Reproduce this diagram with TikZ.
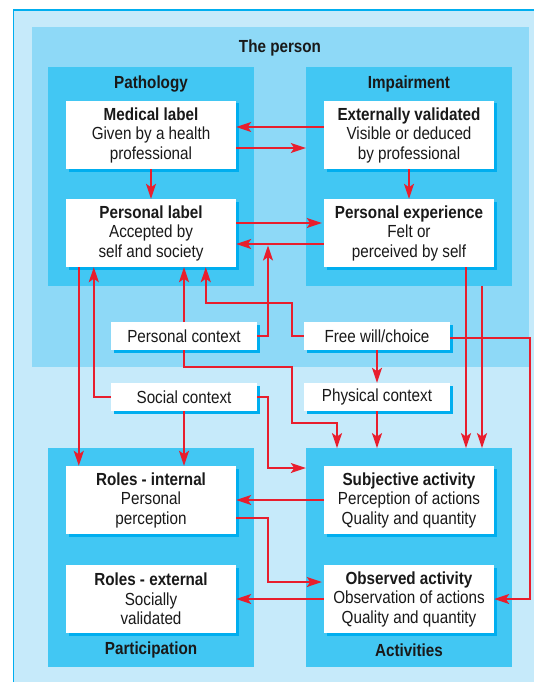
\documentclass[tikz,border=0pt]{standalone}
\usepackage{fontspec}
\setmainfont{Liberation Sans}[FakeStretch=0.87]
\usetikzlibrary{arrows.meta,shadows}
\definecolor{outerblue}{RGB}{198,234,250}
\definecolor{personblue}{RGB}{142,217,247}
\definecolor{boxblue}{RGB}{66,199,243}
\definecolor{edgeblue}{RGB}{0,174,239}
\definecolor{arrowred}{RGB}{232,30,45}
\definecolor{inkc}{RGB}{25,25,25}
\begin{document}
\begin{tikzpicture}[x=1pt,y=-1pt,
  every node/.style={font=\fontsize{17.5}{19.5}\selectfont, text=inkc},
  group/.style={fill=boxblue, draw=none, minimum width=206pt, minimum height=219pt, inner sep=0pt},
  card/.style={fill=white, minimum width=170pt, minimum height=68pt, inner sep=0pt, align=center,
    drop shadow={shadow xshift=2.5pt, shadow yshift=-2.5pt, fill=edgeblue, opacity=1}},
  tag/.style={card, minimum width=146pt, minimum height=28pt},
  heading/.style={font=\fontsize{17.5}{19.5}\selectfont\bfseries},
  arr/.style={draw=arrowred, line width=2pt, -{Stealth[length=15pt,width=10pt,inset=3.5pt]}}
]
\useasboundingbox (0,0) rectangle (534,682);
\fill[white] (0,0) rectangle (534,682);
\fill[outerblue] (13.6,10) rectangle (534,682);
\draw[edgeblue, line width=1.3pt] (13.6,682) -- (13.6,10) -- (534,10);

\node[fill=personblue, minimum width=496.7pt, minimum height=340pt, inner sep=0pt] (person) at (280.35,196.7) {};
\node[heading] (persont) at (280,48) {The person};

\node[group] (patho) at (151,176.2) {};
\node[group] (imp) at (409,176.2) {};
\node[group, minimum height=218.4pt] (part) at (151,557.5) {};
\node[group, minimum height=218.4pt] (act) at (409,557.5) {};

\node[heading] (pathot) at (151,84) {Pathology};
\node[heading] (impt) at (409,84) {Impairment};
\node[heading] (partt) at (151,650) {Participation};
\node[heading] (actt) at (409,650) {Activities};

\node[card] (med) at (151,135) {\textbf{Medical label}\\Given by a health\\professional};
\node[card] (ext) at (409,135) {\textbf{Externally validated}\\Visible or deduced\\by professional};
\node[card] (plab) at (151,233) {\textbf{Personal label}\\Accepted by\\self and society};
\node[card] (pexp) at (409,233) {\textbf{Personal experience}\\Felt or\\perceived by self};
\node[card] (rint) at (151,500) {\textbf{Roles - internal}\\Personal\\perception};
\node[card] (subj) at (409,500) {\textbf{Subjective activity}\\Perception of actions\\Quality and quantity};
\node[card] (rext) at (151,599) {\textbf{Roles - external}\\Socially\\validated};
\node[card] (obs) at (409,599) {\textbf{Observed activity}\\Observation of actions\\Quality and quantity};

\node[tag] (pctx) at (184,336) {Personal context};
\node[tag] (free) at (377,336) {Free will/choice};
\node[tag] (soc) at (184,397) {Social context};
\node[tag] (phys) at (377,397) {Physical context};

\draw[arr] ([yshift=8pt]ext.west) -- ([yshift=8pt]med.east);
\draw[arr] ([yshift=-13pt]med.east) -- ([yshift=-13pt]med.east -| imp.west);
\draw[arr] (med.south) -- (plab.north);
\draw[arr] (ext.south) -- (pexp.north);
\draw[arr] ([yshift=10pt]plab.east) -- ([yshift=10pt,xshift=-2pt]pexp.west);
\draw[arr] ([yshift=-11pt]pexp.west) -- ([yshift=-11pt]plab.east);
\draw[arr] ([xshift=13pt]plab.south west) -- ([xshift=13pt]rint.north west);
\draw[arr] (soc.west) -| ([xshift=28pt]plab.south west);
\draw[arr] (pctx.north) -- (pctx.north |- plab.south);
\draw[arr] (pctx.south) |- (292,367) |- (337,423) -- (337,0 |- act.north);
\draw[arr] (free.west) -| (292,303) -| ([xshift=140pt]plab.south west);
\draw[arr] (pctx.east) -| (268,245.5);
\draw[arr] ([yshift=-2pt]free.east) -| ([xshift=36pt]obs.east) -- (obs.east);
\draw[arr] (free.south) -- (phys.north);
\draw[arr] (phys.south) -- (phys.south |- act.north);
\draw[arr] ([xshift=57pt]pexp.south) -- ([xshift=57pt]pexp.south |- act.north);
\draw[arr] ([xshift=73pt]imp.south) -- ([xshift=73pt]imp.south |- act.north);
\draw[arr] (soc.south) -- (soc.south |- rint.north);
\draw[arr] (soc.east) -| (268,468) -- (act.west |- 0,468);
\draw[arr] (subj.west) -- (rint.east);
\draw[arr] ([yshift=-18pt]rint.east) -| ([xshift=-56pt,yshift=17pt]obs.west) -- ([yshift=17pt,xshift=-2pt]obs.west);
\draw[arr] (obs.west) -- (rext.east);
\end{tikzpicture}
\end{document}
